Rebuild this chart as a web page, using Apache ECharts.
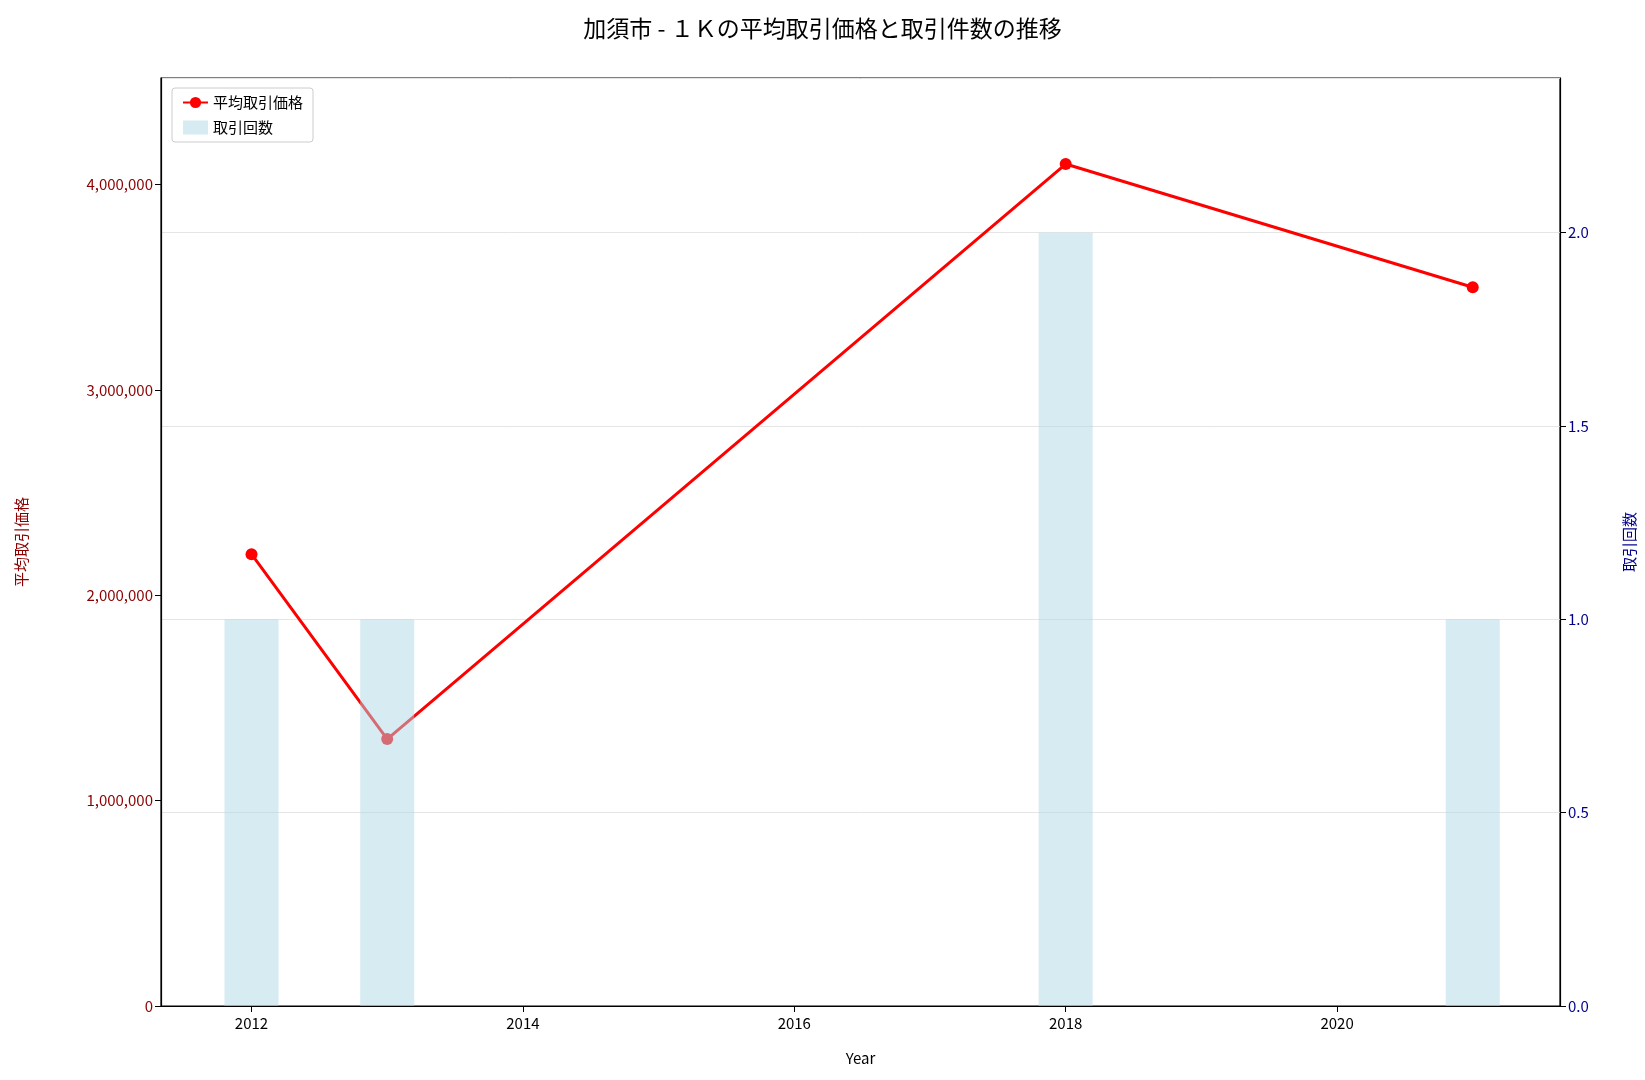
<!DOCTYPE html>
<html><head><meta charset="utf-8">
<script src="https://cdn.jsdelivr.net/npm/echarts@6/dist/echarts.min.js"></script>
<style>html,body{margin:0;padding:0;background:#fff}#c{width:1645px;height:1080px}</style>
</head><body><div id="c"></div>
<script>
const years = [2012, 2013, 2018, 2021];
const avgPrice = [2200000, 1300000, 4100000, 3500000];
const counts = [1, 1, 2, 1];
const xTicks = [2012, 2014, 2016, 2018, 2020];
const F = '"Noto Sans CJK JP", "DejaVu Sans", sans-serif';
const chart = echarts.init(document.getElementById('c'));
chart.setOption({
  animation: false,
  textStyle: {fontFamily: F},
  title: {text: '加須市 - １Ｋの平均取引価格と取引件数の推移', left: 'center', top: 12,
    textStyle: {fontFamily: F, fontSize: 23, fontWeight: 'normal', color: '#000'}},
  grid: {left: 161, right: 81, top: 78, bottom: 74, show: true, borderColor: '#000', borderWidth: 1.2, backgroundColor: 'transparent'},
  legend: {left: 172, top: 88, orient: 'vertical', itemGap: 10,
    backgroundColor: '#fff', borderColor: '#ccc', borderWidth: 1, borderRadius: 3, padding: [7, 10],
    textStyle: {fontFamily: F, fontSize: 15, color: '#000'},
    data: [{name: '平均取引価格'}, {name: '取引回数', icon: 'rect'}]},
  xAxis: {type: 'value', min: 2011.333, max: 2021.643, name: 'Year', nameLocation: 'middle', nameGap: 45,
    nameTextStyle: {fontSize: 15, color: '#000'},
    axisLine: {lineStyle: {color: '#000', width: 1.2}},
    axisTick: {show: true, customValues: xTicks, length: 6, lineStyle: {color: '#000'}},
    axisLabel: {customValues: xTicks, fontSize: 15, color: '#000', margin: 10, formatter: v => String(v)},
    splitLine: {show: false}},
  yAxis: [
    {type: 'value', min: 0, max: 4519000, interval: 1000000, position: 'left',
     name: '平均取引価格', nameLocation: 'middle', nameGap: 132, nameTextStyle: {color: '#8b0000', fontSize: 15},
     axisLine: {show: true, lineStyle: {color: '#000', width: 1.2}}, axisTick: {show: true, length: 6},
     axisLabel: {color: '#8b0000', fontSize: 15, showMaxLabel: false, formatter: v => v.toLocaleString('en-US')},
     splitLine: {show: false}},
    {type: 'value', min: 0, max: 2.4, interval: 0.5, position: 'right',
     name: '取引回数', nameLocation: 'middle', nameGap: 62, nameTextStyle: {color: '#00008b', fontSize: 15},
     axisLine: {show: true, lineStyle: {color: '#000', width: 1.2}}, axisTick: {show: true, length: 6},
     axisLabel: {color: '#00008b', fontSize: 15, showMaxLabel: false, formatter: v => v.toFixed(1)},
     splitLine: {show: true, lineStyle: {color: '#e5e5e5'}}}
  ],
  series: [
    {name: '平均取引価格', type: 'line', yAxisIndex: 0, z: 2,
     data: years.map((y, i) => [y, avgPrice[i]]),
     lineStyle: {color: '#ff0000', width: 3}, itemStyle: {color: '#ff0000'},
     symbol: 'circle', symbolSize: 12},
    {name: '取引回数', type: 'bar', yAxisIndex: 1, z: 3, barWidth: 54,
     data: years.map((y, i) => [y, counts[i]]),
     itemStyle: {color: 'rgba(173,216,230,0.5)'}}
  ]
});
</script></body></html>
